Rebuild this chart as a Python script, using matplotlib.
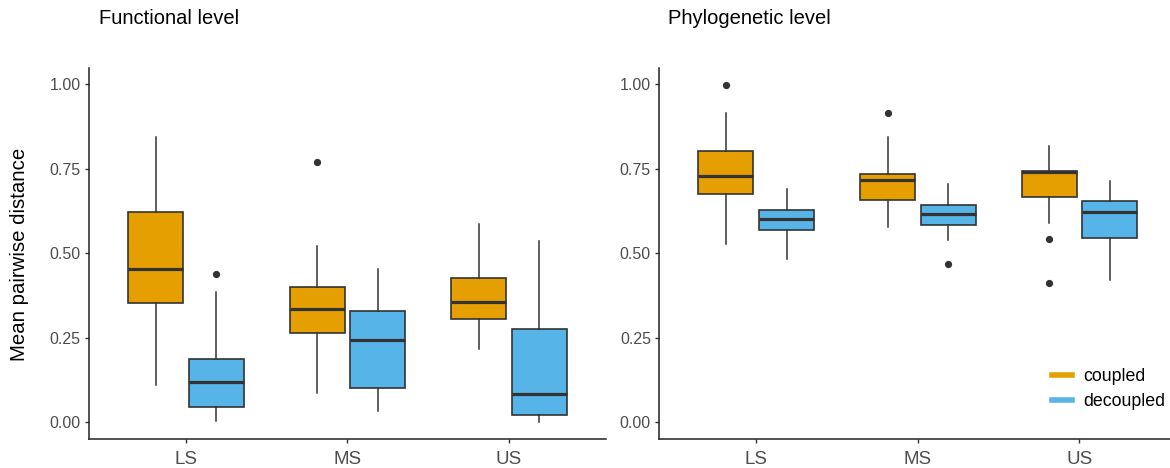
import matplotlib
matplotlib.use("Agg")
import matplotlib.pyplot as plt
from matplotlib.lines import Line2D

plt.rcParams['font.family'] = ['Liberation Sans', 'DejaVu Sans']

groups = ["LS", "MS", "US"]
treatments = ["coupled", "decoupled"]
colors = ["#E69F00", "#56B4E9"]

# box stats per group: (lower whisker, q1, median, q3, upper whisker)
func_coupled_stats = [(0.110, 0.352, 0.453, 0.621, 0.844),
                      (0.086, 0.263, 0.334, 0.401, 0.522),
                      (0.216, 0.306, 0.357, 0.426, 0.586)]
func_coupled_out = [[], [0.771], []]
func_decoupled_stats = [(0.005, 0.046, 0.120, 0.189, 0.385),
                        (0.033, 0.103, 0.243, 0.330, 0.453),
                        (0.001, 0.021, 0.084, 0.275, 0.536)]
func_decoupled_out = [[0.438], [], []]

phylo_coupled_stats = [(0.528, 0.675, 0.728, 0.804, 0.914),
                       (0.577, 0.658, 0.717, 0.735, 0.845),
                       (0.591, 0.668, 0.741, 0.744, 0.817)]
phylo_coupled_out = [[0.998], [0.914], [0.543, 0.411]]
phylo_decoupled_stats = [(0.483, 0.568, 0.602, 0.628, 0.689),
                         (0.539, 0.585, 0.616, 0.642, 0.705),
                         (0.420, 0.545, 0.623, 0.656, 0.713)]
phylo_decoupled_out = [[], [0.469], []]

y_ticks = [0.0, 0.25, 0.5, 0.75, 1.0]
y_ticklabels = ["0.00", "0.25", "0.50", "0.75", "1.00"]


def make_stats(rows, outliers):
    out = []
    for (lo, q1, med, q3, hi), fl in zip(rows, outliers):
        out.append(dict(whislo=lo, q1=q1, med=med, q3=q3, whishi=hi, fliers=fl))
    return out


def draw_panel(ax, coupled, coupled_out, decoupled, decoupled_out):
    edge = "#333333"
    for k, (rows, outs) in enumerate([(coupled, coupled_out), (decoupled, decoupled_out)]):
        offset = -0.1875 if k == 0 else 0.1875
        pos = [i + 1 + offset for i in range(len(groups))]
        ax.bxp(make_stats(rows, outs), positions=pos, widths=0.34,
               patch_artist=True, showcaps=False,
               boxprops=dict(facecolor=colors[k], edgecolor=edge, linewidth=1.2),
               medianprops=dict(color=edge, linewidth=2.3, solid_capstyle='butt'),
               whiskerprops=dict(color=edge, linewidth=1.1),
               flierprops=dict(marker='o', markerfacecolor=edge, markeredgecolor=edge,
                               markersize=4.2))
    ax.set_xlim(0.4, 3.6)
    ax.set_ylim(-0.049, 1.048)
    ax.set_xticks([1, 2, 3])
    ax.set_xticklabels(groups)
    ax.set_yticks(y_ticks)
    ax.set_yticklabels(y_ticklabels)
    for s in ["top", "right"]:
        ax.spines[s].set_visible(False)
    for s in ["left", "bottom"]:
        ax.spines[s].set_linewidth(1.1)
        ax.spines[s].set_color("#222222")
    ax.tick_params(axis='y', labelsize=11.5, labelcolor="#4D4D4D", color="#333333",
                   length=3, width=1.0, pad=3)
    ax.tick_params(axis='x', labelsize=13.5, labelcolor="#4D4D4D", color="#333333",
                   length=3, width=1.0, pad=6)


fig = plt.figure(figsize=(11.7, 4.68), dpi=100)
ax1 = fig.add_axes([89 / 1170, 29 / 468, 517 / 1170, 371 / 468])
ax2 = fig.add_axes([659.3 / 1170, 29 / 468, 517 / 1170, 371 / 468])

draw_panel(ax1, func_coupled_stats, func_coupled_out, func_decoupled_stats, func_decoupled_out)
draw_panel(ax2, phylo_coupled_stats, phylo_coupled_out, phylo_decoupled_stats, phylo_decoupled_out)

fig.text(98.7 / 1170, 1 - 24 / 468, "Functional level", fontsize=14.5, va='baseline')
fig.text(668.3 / 1170, 1 - 24 / 468, "Phylogenetic level", fontsize=14.5, va='baseline')
fig.text(20 / 1170, 1 - 254 / 468, "Mean pairwise distance", fontsize=14.7,
         rotation=90, ha='center', va='center')

handles = [Line2D([], [], color=c, linewidth=4) for c in colors]
fig.legend(handles, treatments, loc='center left',
           bbox_to_anchor=(1051.7 / 1170, 1 - 389.3 / 468), frameon=False,
           fontsize=12.8, handlelength=1.15, handletextpad=0.6, labelspacing=0.45,
           borderpad=0, borderaxespad=0)

fig.savefig("out.png", dpi=100)
